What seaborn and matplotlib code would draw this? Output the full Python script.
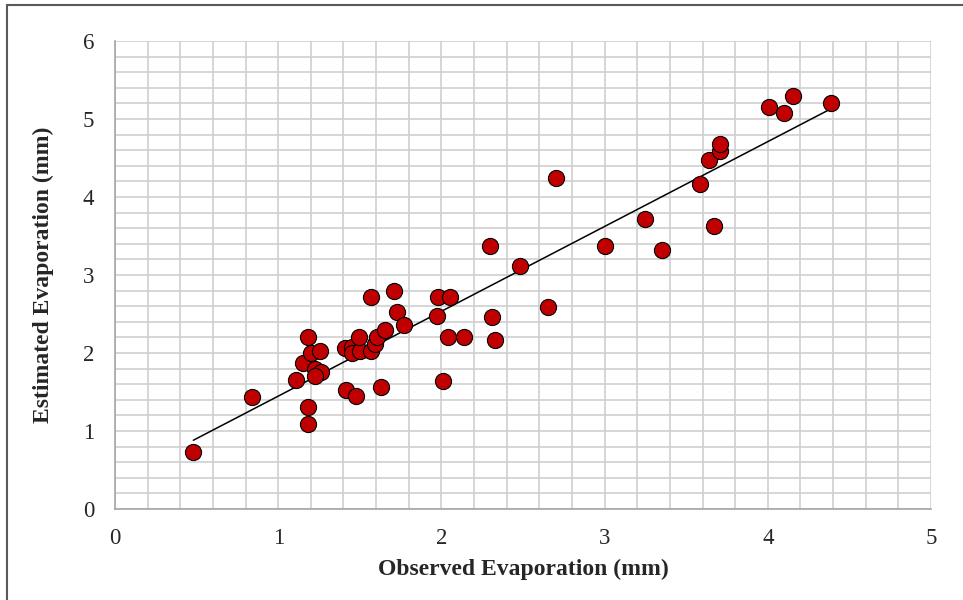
import numpy as np
import pandas as pd
import matplotlib
matplotlib.use("Agg")
import matplotlib.pyplot as plt
import seaborn as sns
from matplotlib.patches import Rectangle

observed = [0.48, 0.84, 1.11, 1.15, 1.18, 1.20, 1.18, 1.18, 1.225, 1.26, 1.225, 1.255,
            1.415, 1.475, 1.41, 1.455, 1.45, 1.50, 1.496, 1.566, 1.57, 1.596, 1.608, 1.627,
            1.653, 1.71, 1.725, 1.77, 1.97, 1.98, 2.01, 2.04, 2.05, 2.14, 2.296, 2.31,
            2.327, 2.484, 2.653, 2.70, 3.00, 3.25, 3.353, 3.582, 3.64, 3.67, 3.709, 3.709,
            4.007, 4.097, 4.153, 4.385]
estimated = [0.73, 1.43, 1.65, 1.87, 2.20, 2.00, 1.31, 1.09, 1.80, 1.76, 1.70, 2.02,
             1.53, 1.45, 2.07, 2.08, 2.00, 2.03, 2.21, 2.02, 2.72, 2.12, 2.20, 1.56,
             2.29, 2.79, 2.52, 2.36, 2.48, 2.72, 1.64, 2.20, 2.72, 2.21, 3.376, 2.46,
             2.17, 3.115, 2.59, 4.25, 3.37, 3.72, 3.32, 4.17, 4.48, 3.63, 4.59, 4.68,
             5.16, 5.08, 5.30, 5.20]

x_ticks = [0, 1, 2, 3, 4, 5]
y_ticks = [0, 1, 2, 3, 4, 5, 6]

df = pd.DataFrame({"Observed": observed, "Estimated": estimated})

sns.set_style("white")
plt.rcParams['font.family'] = ['Liberation Serif', 'DejaVu Serif']

fig = plt.figure(figsize=(9.63, 6.0), dpi=100)
ax = fig.add_axes([115/963, 1-509/600, (931-115)/963, (509-41)/600])

ax.set_xlim(0, 5)
ax.set_ylim(0, 6)
ax.set_xticks(np.arange(0, 5.001, 0.2), minor=True)
ax.set_yticks(np.arange(0, 6.001, 0.2), minor=True)
ax.set_xticks(x_ticks)
ax.set_yticks(y_ticks)
ax.grid(True, which="both", color="#cfcfcf", linewidth=1.2)
ax.set_axisbelow(True)

# trend line from least-squares fit
coef = np.polyfit(df["Observed"], df["Estimated"], 1)
xl = np.array([df["Observed"].min(), df["Observed"].max()])
ax.plot(xl, np.polyval(coef, xl), color="black", linewidth=1.1, zorder=2)

sns.scatterplot(data=df, x="Observed", y="Estimated", ax=ax, s=135,
                color="#C00000", edgecolor="black", linewidth=0.8, zorder=3)

for s in ["top", "right"]:
    ax.spines[s].set_visible(False)
for s in ["left", "bottom"]:
    ax.spines[s].set_color("#a6a6a6")
    ax.spines[s].set_linewidth(1.2)

ax.tick_params(which="both", length=0)
ax.tick_params(axis="x", pad=14, labelsize=16.5)
ax.tick_params(axis="y", pad=15, labelsize=16.5)

ax.set_xlabel("Observed Evaporation (mm)", fontsize=17, fontweight="bold", labelpad=7)
ax.set_ylabel("Estimated Evaporation (mm)", fontsize=17, fontweight="bold", labelpad=21)

fig.patches.append(Rectangle((7/963, -0.1), 1.2, 1 - 5/600 + 0.1, transform=fig.transFigure,
                             fill=False, edgecolor="#595959", linewidth=1.5))

fig.savefig("out.png", dpi=100)
